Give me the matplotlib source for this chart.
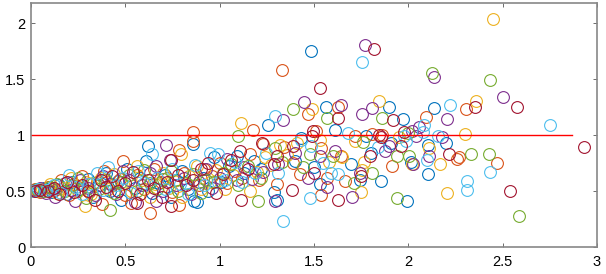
import numpy as np
from matplotlib import pyplot as plt

# series, one list of (x, y) per colour
blue = [(0.01,0.51),(0.04,0.50),(0.07,0.53),(0.11,0.49),(0.15,0.55),(0.19,0.47),(0.22,0.58),(0.26,0.52),
        (0.30,0.61),(0.33,0.45),(0.36,0.55),(0.40,0.66),(0.42,0.50),(0.46,0.59),(0.48,0.42),(0.51,0.70),
        (0.55,0.53),(0.58,0.62),(0.61,0.767),(0.62,0.90),(0.64,0.48),(0.68,0.57),(0.71,0.64),(0.74,0.45),
        (0.77,0.60),(0.80,0.68),(0.83,0.52),(0.857,0.917),(0.867,0.41),(0.88,0.40),(0.91,0.62),(0.94,0.50),
        (0.97,0.80),(1.01,0.58),(1.05,0.72),(1.092,0.81),(1.13,0.66),(1.18,0.77),(1.22,0.70),(1.259,1.087),
        (1.286,0.49),(1.302,0.42),(1.40,0.77),(1.43,0.97),(1.486,1.75),(1.50,0.71),(1.53,0.567),(1.565,1.254),
        (1.61,1.045),(1.694,0.74),(1.745,0.60),(1.776,0.99),(1.80,0.84),(1.853,0.59),(1.90,1.25),(1.908,0.93),
        (1.97,1.14),(1.994,0.41),(2.014,0.76),(2.106,0.65),(2.106,0.91),(2.135,1.245),(2.2,0.925)]

orange = [(0.02,0.52),(0.05,0.49),(0.09,0.54),(0.13,0.51),(0.16,0.60),(0.20,0.46),(0.23,0.56),(0.27,0.63),
          (0.31,0.49),(0.35,0.58),(0.378,0.38),(0.39,0.68),(0.43,0.55),(0.47,0.61),(0.486,0.77),(0.50,0.46),
          (0.531,0.39),(0.56,0.64),(0.60,0.52),(0.629,0.30),(0.65,0.70),(0.69,0.58),(0.72,0.62),(0.75,0.49),
          (0.786,0.87),(0.786,0.373),(0.81,0.66),(0.857,1.027),(0.857,0.946),(0.89,0.55),(0.92,0.70),(0.96,0.63),
          (1.00,0.75),(1.04,0.57),(1.08,0.68),(1.12,0.62),(1.163,0.827),(1.178,1.045),(1.21,0.60),(1.23,0.92),
          (1.306,0.56),(1.333,1.58),(1.34,0.89),(1.39,0.75),(1.424,0.65),(1.469,1.185),(1.51,1.04),(1.535,0.887),
          (1.537,0.46),(1.567,0.62),(1.63,1.25),(1.643,0.81),(1.663,0.59),(1.72,0.99),(1.806,1.01),(1.86,1.00),
          (1.914,0.72),(2.096,1.16),(2.257,0.79),(2.27,0.80),(2.306,1.23),(2.469,0.75)]

yellow = [(0.03,0.50),(0.06,0.52),(0.10,0.56),(0.14,0.48),(0.17,0.53),(0.21,0.62),(0.25,0.50),(0.286,0.37),
          (0.29,0.58),(0.32,0.47),(0.37,0.62),(0.41,0.52),(0.44,0.65),(0.49,0.56),(0.53,0.50),(0.56,0.72),
          (0.59,0.60),(0.63,0.45),(0.66,0.56),(0.70,0.66),(0.73,0.53),(0.76,0.59),(0.796,0.827),(0.80,0.45),
          (0.84,0.63),(0.88,0.72),(0.90,0.52),(0.95,0.58),(0.98,0.69),(1.03,0.52),(1.07,0.64),(1.114,1.11),
          (1.159,0.50),(1.20,0.67),(1.24,0.80),(1.27,0.73),(1.32,0.91),(1.36,0.82),(1.41,0.93),(1.49,1.23),
          (1.53,0.96),(1.58,0.76),(1.65,0.80),(1.718,0.946),(1.75,0.49),(1.755,0.69),(1.763,0.76),(1.847,1.30),
          (1.95,0.98),(2.02,0.74),(2.112,0.887),(2.167,0.74),(2.204,0.48),(2.30,1.006),(2.359,1.30),(2.449,2.04)]

purple = [(0.02,0.51),(0.05,0.53),(0.08,0.48),(0.11,0.52),(0.13,0.45),(0.18,0.57),(0.21,0.51),(0.235,0.415),
          (0.26,0.60),(0.30,0.53),(0.34,0.46),(0.38,0.63),(0.42,0.56),(0.45,0.47),(0.49,0.68),(0.52,0.60),
          (0.55,0.40),(0.59,0.55),(0.63,0.66),(0.663,0.72),(0.663,0.41),(0.70,0.50),(0.714,0.91),(0.735,0.78),
          (0.77,0.55),(0.81,0.62),(0.85,0.47),(0.89,0.58),(0.93,0.70),(0.96,0.53),(1.00,0.62),(1.04,0.79),
          (1.09,0.60),(1.13,0.71),(1.17,0.61),(1.23,0.67),(1.296,0.41),(1.31,0.74),(1.337,1.13),(1.398,0.84),
          (1.449,1.295),(1.47,0.62),(1.53,0.81),(1.57,0.54),(1.612,0.857),(1.643,1.27),(1.704,0.45),(1.745,0.66),
          (1.755,1.19),(1.771,1.80),(1.806,1.245),(1.877,0.857),(1.898,0.90),(2.027,0.743),(2.02,1.036),(2.04,0.99),
          (2.055,1.07),(2.112,0.81),(2.137,1.52),(2.18,0.985),(2.204,1.14),(2.50,1.34)]

green = [(0.03,0.52),(0.07,0.50),(0.10,0.54),(0.14,0.56),(0.18,0.50),(0.22,0.55),(0.25,0.62),(0.29,0.44),
         (0.33,0.57),(0.36,0.52),(0.40,0.60),(0.418,0.33),(0.44,0.48),(0.48,0.58),(0.52,0.64),(0.56,0.50),
         (0.60,0.69),(0.63,0.57),(0.67,0.52),(0.70,0.61),(0.74,0.68),(0.78,0.50),(0.82,0.57),(0.86,0.65),
         (0.90,0.48),(0.93,0.60),(0.97,0.58),(1.02,0.66),(1.06,0.74),(1.096,0.99),(1.10,0.55),(1.15,0.72),
         (1.204,0.415),(1.22,0.62),(1.296,0.88),(1.33,0.76),(1.388,1.23),(1.44,0.71),(1.48,0.83),(1.567,1.155),
         (1.60,0.81),(1.714,0.57),(1.76,0.94),(1.806,0.66),(1.863,1.155),(1.94,0.44),(1.94,0.81),(2.0,1.02),
         (2.004,0.81),(2.127,1.55),(2.33,0.83),(2.43,0.83),(2.435,1.49),(2.588,0.275)]

cyan = [(0.01,0.50),(0.04,0.52),(0.08,0.51),(0.12,0.55),(0.16,0.48),(0.20,0.64),(0.24,0.54),(0.27,0.47),
        (0.31,0.56),(0.35,0.66),(0.38,0.51),(0.41,0.71),(0.45,0.55),(0.49,0.62),(0.53,0.48),(0.57,0.68),
        (0.60,0.57),(0.643,0.827),(0.67,0.62),(0.71,0.52),(0.75,0.70),(0.79,0.56),(0.83,0.47),(0.87,0.73),
        (0.92,0.55),(0.949,0.84),(0.99,0.827),(0.99,0.58),(1.03,0.60),(1.08,0.76),(1.12,0.58),(1.19,0.66),
        (1.245,0.84),(1.296,1.17),(1.31,0.66),(1.337,0.23),(1.43,0.96),(1.48,0.44),(1.484,0.90),(1.55,0.75),
        (1.59,0.66),(1.63,0.65),(1.68,1.02),(1.755,1.65),(1.84,0.89),(1.976,0.99),(1.99,0.946),(2.078,1.03),
        (2.086,1.087),(2.098,0.78),(2.16,0.99),(2.22,1.27),(2.31,0.59),(2.31,0.51),(2.435,0.67),(2.751,1.09)]

darkred = [(0.02,0.50),(0.05,0.51),(0.09,0.50),(0.12,0.53),(0.15,0.47),(0.19,0.58),(0.23,0.49),(0.27,0.55),
           (0.30,0.50),(0.34,0.42),(0.37,0.60),(0.40,0.54),(0.43,0.63),(0.46,0.50),(0.50,0.57),(0.54,0.67),
           (0.561,0.39),(0.58,0.47),(0.62,0.60),(0.65,0.53),(0.694,0.45),(0.72,0.58),(0.745,0.78),(0.745,0.37),
           (0.78,0.64),(0.82,0.55),(0.86,0.60),(0.90,0.70),(0.94,0.75),(0.98,0.48),(1.02,0.65),(1.06,0.78),
           (1.106,0.857),(1.112,0.42),(1.15,0.70),(1.224,0.93),(1.29,0.737),(1.306,0.81),(1.382,0.51),(1.39,0.90),
           (1.49,0.99),(1.496,1.036),(1.50,0.66),(1.531,1.42),(1.63,1.155),(1.63,0.42),(1.75,0.63),(1.796,0.81),
           (1.82,1.77),(1.847,0.997),(1.857,0.98),(1.92,1.13),(1.96,0.90),(1.98,1.03),(2.214,0.83),(2.353,1.25),
           (2.541,0.50),(2.576,1.25),(2.933,0.89)]

series = [blue, orange, yellow, purple, green, cyan, darkred]
colors = ['#0072BD', '#D95319', '#EDB120', '#7E2F8E', '#77AC30', '#4DBEEE', '#A2142F']

ref_x = [0, 2.87]
ref_y = [1, 1]

fig = plt.figure(figsize=(6.06, 2.74), dpi=100)
ax = fig.add_axes([0.051, 0.0985, 0.934, 0.891])

for pts, c in zip(series, colors):
    p = np.array(pts)
    ax.plot(p[:, 0], p[:, 1], 'o', markerfacecolor='none', markeredgecolor=c,
            markersize=8.5, markeredgewidth=0.8)

ax.plot(ref_x, ref_y, color='#FF0000', linewidth=1.0)

ax.set_xlim(0, 3)
ax.set_ylim(0, 2.18)
ax.set_xticks([0, 0.5, 1, 1.5, 2, 2.5, 3])
ax.set_xticklabels(['0', '0.5', '1', '1.5', '2', '2.5', '3'])
ax.set_yticks([0, 0.5, 1, 1.5, 2])
ax.set_yticklabels(['0', '0.5', '1', '1.5', '2'])
ax.tick_params(direction='in', top=True, right=True, length=3, width=0.6,
               color='#555555', labelsize=10.5)
ax.tick_params(axis='x', pad=6)
ax.tick_params(axis='y', pad=4)
for lab in ax.get_xticklabels() + ax.get_yticklabels():
    lab.set_fontfamily('Liberation Sans')
for s in ax.spines.values():
    s.set_color('#888888')
    s.set_linewidth(1.2)

fig.savefig('out.png', dpi=100)
plt.close(fig)
